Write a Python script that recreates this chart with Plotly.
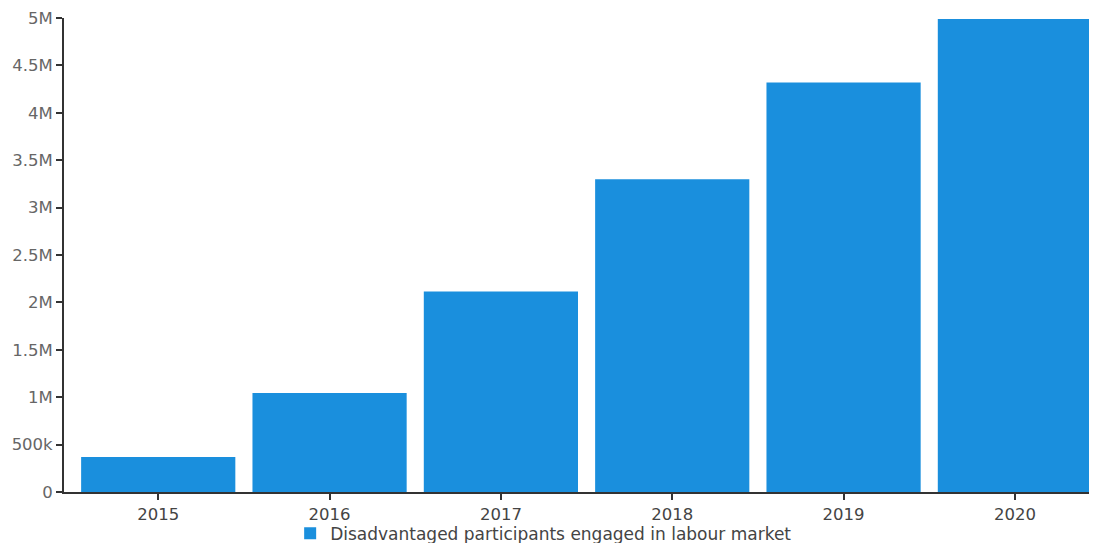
import plotly.graph_objects as go

years = ["2015", "2016", "2017", "2018", "2019", "2020"]
participants = [370000, 1045000, 2115000, 3300000, 4320000, 4990000]
series_name = "Disadvantaged participants engaged in labour market"

fig = go.Figure()

fig.add_trace(go.Bar(
    x=years,
    y=participants,
    name=series_name,
    marker=dict(color="rgb(26,143,221)", line=dict(width=0)),
    showlegend=True,
))

# page body has an 8px margin, so size the figure to fit inside the window
fig.update_layout(
    width=1089, height=535,
    margin=dict(l=56, r=5, t=10, b=51, pad=0, autoexpand=False),
    paper_bgcolor="white",
    plot_bgcolor="white",
    font=dict(family="DejaVu Sans", size=16, color="#555555"),
    bargap=0.1,
    showlegend=True,
    legend=dict(
        orientation="h",
        x=0.22, xanchor="left",
        y=-0.05, yanchor="top",
        font=dict(size=17, color="#444444"),
        itemsizing="constant",
        bgcolor="rgba(0,0,0,0)",
    ),
)

fig.update_xaxes(
    type="category",
    range=[-0.55, 5.45],
    automargin=False,
    showline=True, linecolor="#333333", linewidth=2,
    ticks="outside", ticklen=6, tickcolor="#333333", tickwidth=2,
    tickfont=dict(size=16.5, color="#444444"),
    showgrid=False, zeroline=False,
)

fig.update_yaxes(
    range=[0, 5000000],
    dtick=500000,
    tickformat="~s",
    automargin=False,
    showline=True, linecolor="#333333", linewidth=2,
    ticks="outside", ticklen=6, tickcolor="#333333", tickwidth=2,
    tickfont=dict(size=16.5, color="#666666"),
    showgrid=False, zeroline=False,
)

fig.write_html("out.html")
